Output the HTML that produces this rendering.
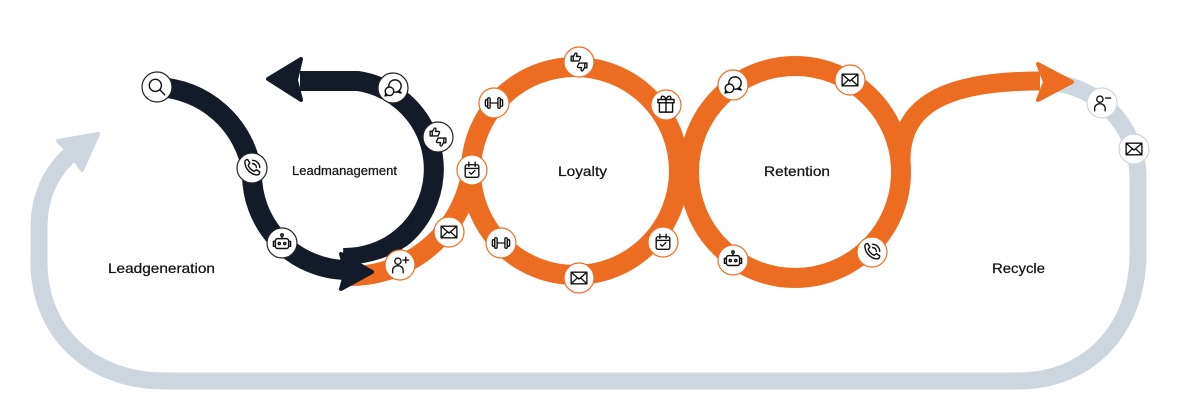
<!DOCTYPE html>
<html><head><meta charset="utf-8"><style>
html,body{margin:0;padding:0;background:#fff;}
svg{display:block;}
text{font-family:"Liberation Sans",sans-serif;fill:#151515;stroke:#151515;stroke-width:0.25px;}
</style></head><body>
<svg width="1188" height="406" viewBox="0 0 1188 406" xmlns="http://www.w3.org/2000/svg">
<defs>
<g id="i-mag"><circle cx="-1.5" cy="-1.5" r="5.5"/><path d="M2.5 2.5 L7 7"/></g>
<g id="i-phone"><path d="M-6.5 -5.5 C-6.5 -7 -5 -7.8 -4 -7.8 L-2 -4.5 L-3.5 -2.5 C-2.5 0 -0.5 2 2 3 L4 1.5 L7 3.5 C7 4.8 6.3 6.3 4.8 6.3 C-1 6.3 -6.5 0.5 -6.5 -5.5 Z"/><path d="M0.5 -7 A6.5 6.5 0 0 1 7 -0.5"/><path d="M0.5 -4 A3.5 3.5 0 0 1 4 -0.5"/></g>
<g id="i-robot"><rect x="-6" y="-4" width="12" height="9" rx="2"/><circle cx="-2.5" cy="0.5" r="1"/><circle cx="2.5" cy="0.5" r="1"/><path d="M0 -4 V-6"/><circle cx="0" cy="-7.2" r="1.1"/><path d="M-6 -1.5 H-7.8 V3 H-6 M6 -1.5 H7.8 V3 H6"/></g>
<g id="i-chat"><circle cx="1.8" cy="-1.8" r="5.6"/><path d="M5.5 2.5 L7.5 4.5 L3.5 3.6"/><circle cx="-3.2" cy="3" r="3.9" fill="#fff"/><path d="M-6.5 5 L-7.2 7.2 L-4.5 6.6"/></g>
<g id="i-thumbs"><path d="M-7.5 -1 V-5.5 H-5.5 V-1 Z"/><path d="M-5.5 -5 L-3.6 -8.3 C-2.5 -8.8 -1.6 -8 -2 -6.8 L-2.5 -5.3 H0.5 C1.6 -5.3 1.8 -3.9 1 -3.3 L0 -1 H-5.5"/><path d="M7.5 1 V5.5 H5.5 V1 Z"/><path d="M5.5 5 L3.6 8.3 C2.5 8.8 1.6 8 2 6.8 L2.5 5.3 H-0.5 C-1.6 5.3 -1.8 3.9 -1 3.3 L0 1 H5.5"/></g>
<g id="i-cal"><rect x="-6.5" y="-5" width="13" height="12" rx="1.8"/><path d="M-6.5 -1.5 H6.5 M-3 -7.5 V-3.5 M3 -7.5 V-3.5 M-2.5 2.3 L-0.7 4 L2.7 0.6"/></g>
<g id="i-env"><rect x="-7.5" y="-5.5" width="15" height="11" rx="0.6"/><path d="M-7.5 -5.5 L0 1 L7.5 -5.5 M-7.5 5.5 L-2 0.3 M7.5 5.5 L2 0.3"/></g>
<g id="i-padd"><circle cx="-2" cy="-3.6" r="3"/><path d="M-7 7.5 V5 A5 4.3 0 0 1 3 5 V7.5"/><path d="M5.5 -7.5 V-2 M2.8 -4.7 H8.2"/></g>
<g id="i-pmin"><circle cx="-2" cy="-3.6" r="3"/><path d="M-7 7.5 V5 A5 4.3 0 0 1 3 5 V7.5"/><path d="M3.5 -4.7 H8.2"/></g>
<g id="i-dumb"><path d="M-3.8 0 H3.8"/><rect x="-6" y="-5" width="2.3" height="10" rx="1.1"/><rect x="3.7" y="-5" width="2.3" height="10" rx="1.1"/><rect x="-8.2" y="-3.2" width="2.2" height="6.4" rx="1"/><rect x="6" y="-3.2" width="2.2" height="6.4" rx="1"/></g>
<g id="i-gift"><rect x="-6" y="-2" width="12" height="8.5"/><rect x="-7.3" y="-5" width="14.6" height="3"/><path d="M0 -5 V6.5"/><path d="M0 -5 C-1.5 -9 -5.5 -8.8 -4 -5.5 M0 -5 C1.5 -9 5.5 -8.8 4 -5.5"/></g>
</defs>

<!-- gray recycle loop -->
<path d="M1045 82 C1100 84 1138 128 1138 178 L1138 253 C1138 330 1088 381 1018 381 L165 381 C88 381 39 330 39 262 L39 228 C39 198 50 172 72 153" fill="none" stroke="#cdd5df" stroke-width="17"/>
<polygon points="98,134 58,141 70,153 82,170" fill="#cdd5df" stroke="#cdd5df" stroke-width="4" stroke-linejoin="round"/>

<!-- dark lead management loop (under orange) -->
<path d="M343 258 A89 89 0 0 0 358 81 L300 81" fill="none" stroke="#131a28" stroke-width="20"/>
<polygon points="268,79 301,59 296,80 301,100" fill="#131a28" stroke="#131a28" stroke-width="4" stroke-linejoin="round"/>

<!-- orange -->
<g fill="none" stroke="#ec6c22" stroke-width="20">
<circle cx="575" cy="171" r="104"/>
<circle cx="795" cy="172" r="106"/>
<path d="M901 185 L901 160 C901 105 945 81 1040 81" stroke-width="19"/>
</g>
<path d="M345 276 A123 123 0 0 0 445 225" fill="none" stroke="#fff" stroke-width="23"/>
<path d="M345 276 A123 123 0 0 0 472 168" fill="none" stroke="#ec6c22" stroke-width="20"/>
<polygon points="1072,82 1038,64 1045,82 1038,100" fill="#ec6c22" stroke="#ec6c22" stroke-width="4" stroke-linejoin="round"/>

<!-- dark S arrow -->
<path d="M157 87 A100 100 0 0 1 252 172 A96 96 0 0 0 345 270" fill="none" stroke="#131a28" stroke-width="20"/>
<polygon points="372,272 341,254 346,271 341,289" fill="#131a28" stroke="#131a28" stroke-width="4" stroke-linejoin="round"/>

<!-- icon badges -->
<g stroke-width="1.2">
<g fill="#fff" stroke="#222">
<circle cx="157" cy="87" r="15"/><circle cx="252" cy="168" r="15"/><circle cx="282" cy="243" r="15"/><circle cx="393" cy="88" r="15"/><circle cx="438" cy="137" r="15"/>
</g>
<g fill="#fff" stroke="#ec6c22">
<circle cx="472" cy="170" r="15"/><circle cx="449" cy="232" r="15"/><circle cx="400" cy="265" r="15"/>
<circle cx="579" cy="62" r="15"/><circle cx="494" cy="103" r="15"/><circle cx="666" cy="105" r="15"/><circle cx="501" cy="243" r="15"/><circle cx="579" cy="278" r="15"/><circle cx="663" cy="242" r="15"/>
<circle cx="733" cy="85" r="15"/><circle cx="850" cy="80" r="15"/><circle cx="733" cy="260" r="15"/><circle cx="872" cy="252" r="15"/>
</g>
<g fill="#fff" stroke="#cdd5df">
<circle cx="1102" cy="103" r="15"/><circle cx="1134" cy="149" r="15"/>
</g>
</g>
<g fill="none" stroke="#111" stroke-width="1.3" stroke-linecap="round" stroke-linejoin="round">
<use href="#i-mag" transform="translate(157 87) scale(1.1)"/>
<use href="#i-phone" transform="translate(252 168) scale(1.1)"/>
<use href="#i-robot" transform="translate(282 243) scale(1.1)"/>
<use href="#i-chat" transform="translate(393 88) scale(1.1)"/>
<use href="#i-thumbs" transform="translate(438 137) scale(1.05)"/>
<use href="#i-cal" transform="translate(472 170) scale(1.05)"/>
<use href="#i-env" transform="translate(449 232) scale(1.05)"/>
<use href="#i-padd" transform="translate(400 265) scale(1.05)"/>
<use href="#i-thumbs" transform="translate(579 62) scale(1.05)"/>
<use href="#i-dumb" transform="translate(494 103) scale(1.05)"/>
<use href="#i-gift" transform="translate(666 105) scale(1.1)"/>
<use href="#i-dumb" transform="translate(501 243) scale(1.05)"/>
<use href="#i-env" transform="translate(579 278) scale(1.05)"/>
<use href="#i-cal" transform="translate(663 242) scale(1.05)"/>
<use href="#i-chat" transform="translate(733 85) scale(1.1)"/>
<use href="#i-env" transform="translate(850 80) scale(1.05)"/>
<use href="#i-robot" transform="translate(733 260) scale(1.1)"/>
<use href="#i-phone" transform="translate(872 252) scale(1.1)"/>
<use href="#i-pmin" transform="translate(1102 103) scale(1.05)"/>
<use href="#i-env" transform="translate(1134 149) scale(1.05)"/>
</g>

<!-- labels -->
<text x="292" y="175" font-size="13" textLength="105" lengthAdjust="spacingAndGlyphs">Leadmanagement</text>
<text x="108" y="273" font-size="14" textLength="107" lengthAdjust="spacingAndGlyphs">Leadgeneration</text>
<text x="558" y="176" font-size="14" textLength="49" lengthAdjust="spacingAndGlyphs">Loyalty</text>
<text x="764" y="176" font-size="14" textLength="66" lengthAdjust="spacingAndGlyphs">Retention</text>
<text x="992" y="273" font-size="14" textLength="53" lengthAdjust="spacingAndGlyphs">Recycle</text>
</svg>
</body></html>
